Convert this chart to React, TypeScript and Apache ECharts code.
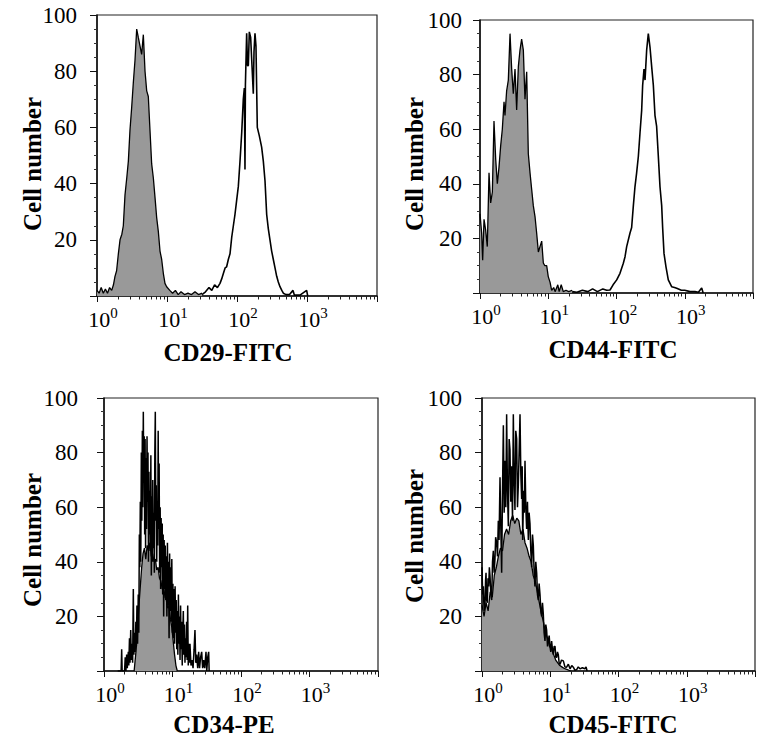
import { useEffect, useRef } from "react";
import * as echarts from "echarts";

// x = log10 of fluorescence intensity (decades), y = cell number
const cd29Control = [
  [0, 2], [0.03, 1], [0.06, 3], [0.09, 1], [0.12, 2.5], [0.15, 1], [0.18, 3], [0.21, 2], [0.235, 4],
  [0.257, 7], [0.28, 9], [0.305, 15], [0.329, 20], [0.355, 22], [0.376, 25], [0.4, 36], [0.425, 42],
  [0.448, 48], [0.471, 59], [0.495, 67], [0.519, 76], [0.543, 84], [0.567, 95], [0.59, 92], [0.614, 89],
  [0.638, 86], [0.662, 93], [0.686, 80], [0.71, 73], [0.733, 71], [0.757, 59], [0.781, 47], [0.805, 42],
  [0.829, 35], [0.852, 28], [0.876, 23], [0.9, 16], [0.924, 13], [0.948, 8], [0.971, 4.5], [0.995, 3.3],
  [1.04, 2], [1.08, 1], [1.12, 2], [1.16, 0.5], [1.2, 1.5], [1.25, 0.5], [1.3, 1], [1.35, 0.5],
  [1.4, 1.5], [1.45, 0.5], [1.5, 1],
];
const cd29Stained = [
  [1.5, 0.5], [1.55, 1.5], [1.6, 3], [1.64, 2], [1.68, 4], [1.72, 3], [1.757, 4.5], [1.78, 6], [1.805, 8],
  [1.83, 10], [1.852, 10.4], [1.876, 13], [1.9, 15], [1.925, 21], [1.948, 25], [1.971, 29], [1.995, 34],
  [2.019, 39], [2.043, 48], [2.067, 58], [2.09, 70], [2.105, 74], [2.114, 45], [2.12, 75], [2.138, 93.5],
  [2.15, 82], [2.162, 82], [2.176, 94], [2.195, 92], [2.214, 82], [2.233, 72], [2.243, 87], [2.257, 93.5],
  [2.271, 89], [2.29, 60], [2.319, 57], [2.352, 53], [2.376, 48], [2.4, 41], [2.424, 29], [2.447, 24],
  [2.471, 20], [2.495, 16], [2.519, 13], [2.543, 10], [2.567, 7], [2.59, 5], [2.614, 3.3], [2.64, 2],
  [2.662, 1], [2.7, 0.5], [2.75, 0.5], [2.8, 2], [2.82, 0.3], [2.9, 0.3], [2.995, 2], [3.01, 0],
];
const cd44Control = [
  [0, 29], [0.024, 22], [0.039, 12], [0.059, 27], [0.083, 23], [0.107, 17], [0.132, 44], [0.156, 33],
  [0.181, 37], [0.205, 63], [0.23, 49], [0.254, 40], [0.278, 46], [0.303, 54], [0.327, 60], [0.352, 70],
  [0.366, 65], [0.39, 74], [0.415, 78], [0.44, 95], [0.464, 82], [0.488, 73], [0.513, 82], [0.537, 67],
  [0.562, 83], [0.586, 89], [0.61, 93], [0.635, 89], [0.659, 71], [0.684, 81], [0.708, 51], [0.733, 44],
  [0.757, 38], [0.781, 32], [0.806, 28], [0.83, 22], [0.855, 15], [0.879, 17], [0.904, 19], [0.928, 11],
  [0.95, 10], [0.977, 10], [1.0, 6], [1.026, 4], [1.05, 1], [1.08, 2], [1.1, 0.5], [1.14, 3], [1.16, 0.5],
  [1.19, 3], [1.22, 0.5], [1.26, 1], [1.3, 0.5], [1.35, 1],
];
const cd44Stained = [
  [1.35, 0.5], [1.42, 0.3], [1.5, 1], [1.58, 0.5], [1.65, 1.5], [1.72, 0.5], [1.8, 1.5], [1.856, 1],
  [1.905, 1.1], [1.95, 3], [2.003, 4.8], [2.051, 7.2], [2.1, 10.9], [2.125, 13.3], [2.149, 17], [2.198, 22],
  [2.222, 24], [2.247, 32], [2.271, 39], [2.295, 44], [2.32, 50], [2.344, 58.5], [2.369, 67], [2.383, 76],
  [2.403, 82], [2.418, 78], [2.442, 89], [2.466, 95], [2.491, 90], [2.515, 83], [2.54, 76], [2.564, 65],
  [2.588, 61], [2.613, 50], [2.637, 39], [2.662, 32], [2.676, 24], [2.696, 14.5], [2.725, 9.6], [2.759, 4.8],
  [2.808, 2.3], [2.85, 2], [2.882, 1.7], [2.95, 1], [3.0, 1], [3.077, 0.5], [3.15, 0.5], [3.2, 0.3],
  [3.248, 1.8], [3.27, 0],
];
const cd34Control = [
  [0.44, 0], [0.47, 8], [0.49, 16], [0.51, 24], [0.53, 31], [0.55, 38], [0.57, 43], [0.59, 45], [0.61, 41],
  [0.63, 46], [0.65, 44], [0.67, 47], [0.69, 42], [0.71, 43], [0.73, 40], [0.75, 41], [0.77, 37], [0.79, 38],
  [0.81, 34], [0.83, 33], [0.85, 30], [0.87, 31], [0.89, 27], [0.91, 26], [0.93, 23], [0.95, 24], [0.97, 19],
  [0.99, 16], [1.01, 11], [1.03, 6], [1.05, 2], [1.07, 0],
];
const cd34Stained = [
  [0.2, 0], [0.25, 0], [0.258, 8], [0.265, 0], [0.3, 0], [0.31, 5], [0.32, 0], [0.331, 6], [0.34, 1],
  [0.355, 7], [0.362, 2], [0.372, 12], [0.38, 3], [0.39, 15], [0.398, 4], [0.41, 10], [0.418, 3], [0.428, 30],
  [0.436, 6], [0.446, 14], [0.455, 7], [0.465, 18], [0.472, 9], [0.481, 24], [0.49, 10], [0.5, 28], [0.508, 14],
  [0.516, 50], [0.523, 38], [0.53, 62], [0.537, 40], [0.545, 80], [0.552, 55], [0.56, 88], [0.566, 60],
  [0.574, 95], [0.58, 70], [0.587, 86], [0.594, 50], [0.6, 85], [0.607, 45], [0.614, 78], [0.62, 52],
  [0.628, 86], [0.635, 62], [0.642, 80], [0.649, 40], [0.656, 73], [0.663, 50], [0.67, 66], [0.677, 44],
  [0.684, 79], [0.691, 35], [0.698, 64], [0.705, 40], [0.712, 70], [0.719, 45], [0.727, 58], [0.735, 36],
  [0.742, 80], [0.749, 95], [0.756, 55], [0.763, 68], [0.77, 40], [0.777, 62], [0.784, 46], [0.791, 88],
  [0.798, 52], [0.805, 76], [0.812, 36], [0.82, 60], [0.827, 30], [0.834, 56], [0.842, 38], [0.85, 54],
  [0.857, 28], [0.864, 50], [0.871, 20], [0.878, 48], [0.886, 30], [0.894, 46], [0.902, 26], [0.91, 42],
  [0.918, 20], [0.926, 47], [0.934, 24], [0.942, 40], [0.95, 12], [0.958, 43], [0.966, 22], [0.974, 38],
  [0.982, 18], [0.99, 41], [0.998, 14], [1.006, 32], [1.014, 12], [1.022, 30], [1.03, 10], [1.038, 31],
  [1.046, 14], [1.054, 26], [1.062, 8], [1.07, 22], [1.078, 6], [1.086, 28], [1.094, 10], [1.102, 20],
  [1.11, 4], [1.118, 24], [1.126, 8], [1.134, 18], [1.142, 2], [1.15, 14], [1.158, 22], [1.166, 6],
  [1.174, 17], [1.182, 3], [1.19, 12], [1.198, 5], [1.206, 18], [1.214, 4], [1.222, 24], [1.23, 2],
  [1.238, 10], [1.246, 3], [1.255, 10], [1.27, 2], [1.285, 4], [1.3, 1], [1.315, 8], [1.328, 15], [1.34, 3],
  [1.353, 6], [1.368, 1], [1.382, 7], [1.395, 1], [1.41, 5], [1.426, 7], [1.44, 1], [1.455, 4], [1.47, 1],
  [1.489, 7], [1.5, 0], [1.514, 5], [1.528, 7], [1.535, 0],
];
const cd45Control = [
  [0, 24], [0.03, 20], [0.06, 25], [0.09, 22], [0.12, 29], [0.15, 27], [0.18, 35], [0.21, 38], [0.24, 42],
  [0.27, 45], [0.3, 44], [0.33, 50], [0.36, 52], [0.39, 50], [0.42, 55], [0.45, 57], [0.48, 54], [0.51, 56],
  [0.54, 55], [0.57, 50], [0.6, 52], [0.63, 47], [0.66, 45], [0.69, 42], [0.72, 40], [0.75, 35], [0.78, 33],
  [0.81, 29], [0.84, 25], [0.87, 21], [0.9, 18], [0.93, 14], [0.96, 12], [0.99, 9], [1.02, 8], [1.05, 6],
  [1.08, 4], [1.11, 3], [1.14, 2], [1.17, 1.5], [1.2, 1], [1.25, 0.5], [1.3, 0],
];
const cd45Stained = [
  [0, 38], [0.01, 28], [0.02, 31], [0.03, 22], [0.044, 24], [0.052, 33], [0.059, 36], [0.068, 26], [0.078, 25],
  [0.088, 34], [0.098, 31], [0.108, 38], [0.117, 35], [0.13, 28], [0.142, 26], [0.154, 40], [0.166, 44],
  [0.178, 36], [0.19, 41], [0.2, 49], [0.215, 47], [0.227, 42], [0.239, 55], [0.25, 48], [0.264, 71],
  [0.276, 52], [0.288, 36], [0.3, 65], [0.313, 90], [0.325, 58], [0.337, 77], [0.349, 60], [0.361, 94],
  [0.373, 66], [0.386, 53], [0.398, 85], [0.41, 81], [0.422, 62], [0.435, 75], [0.447, 55], [0.459, 94],
  [0.471, 70], [0.483, 59], [0.495, 88], [0.508, 85], [0.52, 60], [0.532, 68], [0.544, 80], [0.557, 94],
  [0.569, 72], [0.581, 63], [0.589, 75], [0.596, 48], [0.61, 66], [0.62, 58], [0.63, 77], [0.642, 60],
  [0.654, 52], [0.666, 62], [0.679, 48], [0.69, 58], [0.703, 54], [0.715, 44], [0.728, 38], [0.74, 50],
  [0.752, 46], [0.764, 36], [0.776, 31], [0.788, 40], [0.801, 36], [0.813, 28], [0.825, 26], [0.837, 32],
  [0.85, 28], [0.862, 22], [0.874, 20], [0.886, 25], [0.898, 21], [0.91, 14], [0.923, 11], [0.935, 17],
  [0.947, 15], [0.96, 9], [0.972, 11], [0.984, 13], [0.996, 9], [1.008, 7], [1.02, 11], [1.032, 8],
  [1.045, 6], [1.057, 9], [1.07, 9], [1.082, 5], [1.094, 5], [1.106, 7], [1.118, 6], [1.13, 3], [1.143, 2.4],
  [1.165, 4], [1.192, 3.7], [1.215, 1.5], [1.24, 1.4], [1.265, 2.5], [1.29, 0.8], [1.315, 2], [1.338, 1.4],
  [1.36, 0.3], [1.387, 0.5], [1.41, 1.5], [1.436, 0.8], [1.47, 1.2], [1.509, 0.8], [1.525, 1.5], [1.54, 0],
];

const xTitles = ["CD29-FITC", "CD44-FITC", "CD34-PE", "CD45-FITC"];
const yTitle = "Cell number";
const decadeExponents = [0, 1, 2, 3];
const minorMultipliers = [2, 3, 4, 5, 6, 7, 8, 9];

const FONT = "Liberation Serif, Times New Roman, serif";

const layout = [
  { left: 97, top: 15, width: 280, height: 281, yMargin: 20, xT: [228, 352], yT: [32, 164] },
  { left: 480, top: 20, width: 273, height: 273, yMargin: 18, xT: [613, 349], yT: [414, 164] },
  { left: 104, top: 398, width: 274, height: 273, yMargin: 26, xT: [224, 724], yT: [32, 540] },
  { left: 482, top: 398, width: 273, height: 273, yMargin: 20, xT: [613, 724], yT: [414, 536] },
];

const seriesPairs = [
  [cd29Control, cd29Stained],
  [cd44Control, cd44Stained],
  [cd34Control, cd34Stained],
  [cd45Control, cd45Stained],
];

export default function App() {
  const ref = useRef<HTMLDivElement>(null);
  useEffect(() => {
    document.body.style.margin = "0";
    if (!ref.current) return;
    const chart = echarts.init(ref.current, undefined, { renderer: "svg" });
    const minorTicks: number[] = [];
    decadeExponents.forEach((d) => minorMultipliers.forEach((m) => minorTicks.push(d + Math.log10(m))));

    const grid = layout.map((g) => ({
      left: g.left, top: g.top, width: g.width, height: g.height,
      show: true, borderColor: "#222", borderWidth: 1.2, containLabel: false,
    }));

    const xAxis: any[] = [];
    layout.forEach((g, i) => {
      xAxis.push({
        gridIndex: i, type: "value", position: "bottom", min: 0, max: 4, interval: 1,
        axisLine: { show: true, onZero: false, lineStyle: { color: "#111", width: 1.5 } },
        axisTick: { show: true, length: 6, lineStyle: { color: "#111", width: 1 } },
        splitLine: { show: false },
        axisLabel: {
          show: true, margin: 9, padding: [0, 0, 0, 12],
          formatter: (v: number) => (decadeExponents.includes(v) ? `{b|10}{s|${v}}` : ""),
          rich: {
            b: { fontFamily: FONT, fontSize: 22, color: "#000", lineHeight: 25, verticalAlign: "bottom" },
            s: { fontFamily: FONT, fontSize: 15, color: "#000", verticalAlign: "top" },
          },
        },
      });
      xAxis.push({
        gridIndex: i, type: "value", position: "bottom", min: 0, max: 4,
        axisLine: { show: false },
        axisTick: { show: true, length: 3.5, customValues: minorTicks, lineStyle: { color: "#222", width: 1 } },
        axisLabel: { show: false },
        splitLine: { show: false },
      });
    });

    const yAxis = layout.map((g, i) => ({
      gridIndex: i, type: "value", min: 0, max: 100, interval: 20,
      axisLine: { show: true, lineStyle: { color: "#111", width: 1.5 } },
      axisTick: { show: true, length: 7, lineStyle: { color: "#111", width: 1 } },
      minorTick: { show: true, splitNumber: 4, length: 3, lineStyle: { color: "#333", width: 1 } },
      splitLine: { show: false },
      axisLabel: {
        margin: g.yMargin, fontFamily: FONT, fontSize: 23, color: "#000",
        formatter: (v: number) => (v === 0 ? "" : String(v)),
      },
    }));

    const series: any[] = [];
    seriesPairs.forEach(([control, stained], i) => {
      series.push({
        type: "line", xAxisIndex: i * 2, yAxisIndex: i, data: control, symbol: "none",
        lineStyle: { color: "#000", width: 1.3 }, areaStyle: { color: "#999999", opacity: 1 }, z: 2,
      });
      series.push({
        type: "line", xAxisIndex: i * 2, yAxisIndex: i, data: stained, symbol: "none",
        lineStyle: { color: "#000", width: i >= 2 ? 1.5 : 1.6 }, z: 3,
      });
    });

    const graphic: any[] = [];
    layout.forEach((g, i) => {
      graphic.push({
        type: "text", x: g.xT[0], y: g.xT[1],
        style: { text: xTitles[i], font: `bold 25px ${FONT}`, fill: "#000", textAlign: "center", textVerticalAlign: "middle", align: "center", verticalAlign: "middle" },
      });
      graphic.push({
        type: "text", x: g.yT[0], y: g.yT[1], rotation: Math.PI / 2,
        style: { text: yTitle, font: `bold 25px ${FONT}`, fill: "#000", textAlign: "center", textVerticalAlign: "middle", align: "center", verticalAlign: "middle" },
      });
    });

    chart.setOption({
      animation: false,
      backgroundColor: "#fff",
      grid, xAxis, yAxis, series, graphic,
    });
    return () => chart.dispose();
  }, []);
  return <div ref={ref} style={{ width: 767, height: 740 }} />;
}
